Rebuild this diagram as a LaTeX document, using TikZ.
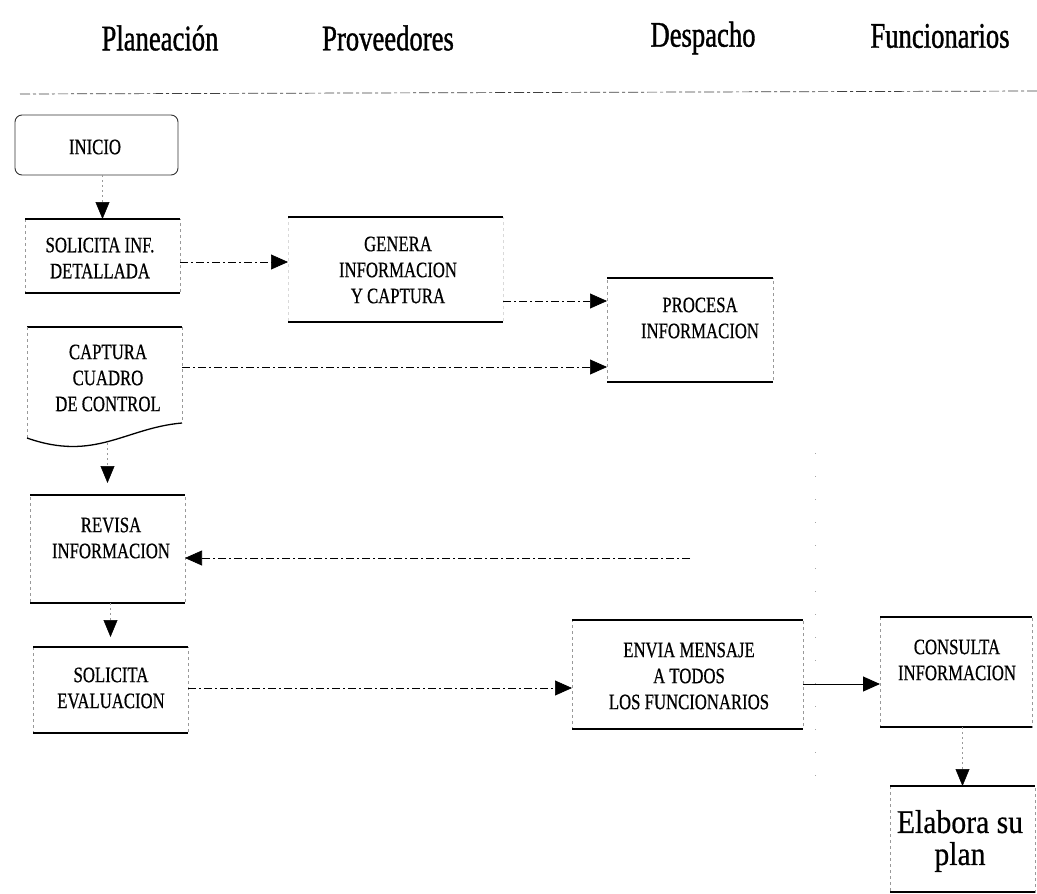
\documentclass[tikz,border=0pt]{standalone}
\usepackage{fontspec}
\setmainfont{Liberation Serif}
\newfontfamily\boxfont[FakeStretch=0.76,FakeBold=0.6]{Liberation Serif}
\newfontfamily\headfont[FakeStretch=0.74,FakeBold=1]{Liberation Serif}
\newfontfamily\bigfont[FakeStretch=0.9,FakeBold=0.6]{Liberation Serif}
\usetikzlibrary{arrows.meta}
\tikzset{
  tbline/.style={draw=black, line width=1.3pt, solid},
  boxside/.style={draw=black!40, line width=0.5pt, dash pattern=on 3pt off 3pt,
    inner sep=0pt, outer sep=0pt,
    append after command={
      (\tikzlastnode.north west) edge[tbline] (\tikzlastnode.north east)
      (\tikzlastnode.south west) edge[tbline] (\tikzlastnode.south east)}},
  sz/.style 2 args={minimum width=#1pt, minimum height=#2pt},
  txt/.style={align=center, inner sep=0pt, font=\boxfont\fontsize{22}{26}\selectfont},
  head/.style={inner sep=0pt, font=\headfont\fontsize{36}{40}\selectfont},
  conn/.style={draw=black, line width=0.7pt, dash pattern=on 8pt off 3pt on 2pt off 3pt,
    -{Triangle[length=17pt,width=15pt]}},
  solidconn/.style={draw=black, line width=0.9pt, -{Triangle[length=17pt,width=15pt]}},
  downarr/.style={draw=black!40, line width=0.5pt, dash pattern=on 2pt off 3pt,
    -{Triangle[length=17pt,width=14pt,fill=black,color=black]}},
  lane/.style={draw=black!35, line width=0.6pt, dash pattern=on 1pt off 22pt},
  topline/.style={draw=black!75, line width=0.7pt, dash pattern=on 10pt off 3pt on 3pt off 3pt},
}
\begin{document}
\begin{tikzpicture}[x=1pt,y=-1pt]
\useasboundingbox (0,0) rectangle (1037,894);

% headers
\node[head] (h1) at (160,38) {Planeación};
\node[head] (h2) at (388,38) {Proveedores};
\node[head] (h3) at (703,38) {Despacho};
\node[head] (h4) at (940,36) {Funcionarios};
\draw[topline] (20,94) -- (1037,91);

% lane divider remnant
\draw[lane] (815,453) -- (815,792);

% INICIO
\node[draw=black!80, line width=0.9pt, rounded corners=7pt, sz={163}{60}, inner sep=0pt] (inicio) at (96.5,145) {};
\node[txt] (inicio-t) at (95,147) {INICIO};

% SOLICITA INF. DETALLADA
\node[boxside, sz={155}{74}] (solicita) at (102.5,256) {};
\node[txt] (solicita-t) at (100,258) {SOLICITA INF.\\DETALLADA};

% GENERA INFORMACION Y CAPTURA
\node[boxside, draw=black!15, sz={215}{105}] (genera) at (395.5,269.5) {};
\node[txt] (genera-t) at (398,270) {GENERA\\INFORMACION\\Y CAPTURA};

% PROCESA INFORMACION
\node[boxside, sz={166}{104}] (procesa) at (690,330) {};
\node[txt] (procesa-t) at (700,318) {PROCESA\\INFORMACION};

% CAPTURA CUADRO DE CONTROL (document shape)
\node[inner sep=0pt, outer sep=0pt, sz={155}{116}] (captura) at (104.5,385) {};
\draw[tbline] (27,327) -- (182,327);
\draw[draw=black!40, line width=0.5pt, dash pattern=on 3pt off 3pt] (27,327) -- (27,438) (182,327) -- (182,423);
\draw[tbline] (182,423) .. controls (125,428) and (95,462) .. (27,438);
\node[txt] (captura-t) at (108,378) {CAPTURA\\CUADRO\\DE CONTROL};

% REVISA INFORMACION
\node[boxside, sz={155}{108}] (revisa) at (107.5,549) {};
\node[txt] (revisa-t) at (111,538) {REVISA\\INFORMACION};

% SOLICITA EVALUACION
\node[boxside, sz={155}{86}] (soleval) at (110.5,690) {};
\node[txt] (soleval-t) at (111,688) {SOLICITA\\EVALUACION};

% ENVIA MENSAJE
\node[boxside, sz={231}{109}] (envia) at (687.5,674.5) {};
\node[txt] (envia-t) at (689,676) {ENVIA MENSAJE\\A TODOS\\LOS FUNCIONARIOS};

% CONSULTA INFORMACION
\node[boxside, sz={152}{110}] (consulta) at (956,672) {};
\node[txt] (consulta-t) at (957,660) {CONSULTA\\INFORMACION};

% Elabora su plan
\node[boxside, sz={145}{106}] (elabora) at (962.5,839) {};
\node[align=center, inner sep=0pt, font=\bigfont\fontsize{33}{32}\selectfont] (elabora-t) at (960,841) {Elabora su\\plan};

% connectors
\draw[downarr] (solicita.north |- inicio.south) -- (solicita.north);
\draw[conn] ([yshift=-6pt]solicita.east) coordinate (c1) -- (c1 -| genera.west);
\draw[conn] ([yshift=-31.5pt]genera.east) coordinate (c2) -- (c2 -| procesa.west);
\draw[conn] ([yshift=18pt]captura.east) coordinate (c3) -- (c3 -| procesa.west);
\draw[downarr] (revisa.north |- captura.south) -- ([yshift=12pt]revisa.north);
\coordinate (ret) at (690,558);
\draw[conn] (ret) -- (ret -| revisa.east);
\draw[downarr] (soleval.north |- revisa.south) -- ([yshift=10pt]soleval.north);
\draw[conn] ([yshift=2pt]soleval.east) coordinate (c4) -- (c4 -| envia.west);
\draw[solidconn] ([yshift=-9.5pt]envia.east) coordinate (c5) -- (c5 -| consulta.west);
\draw[downarr] (elabora.north |- consulta.south) -- (elabora.north);
\end{tikzpicture}
\end{document}
